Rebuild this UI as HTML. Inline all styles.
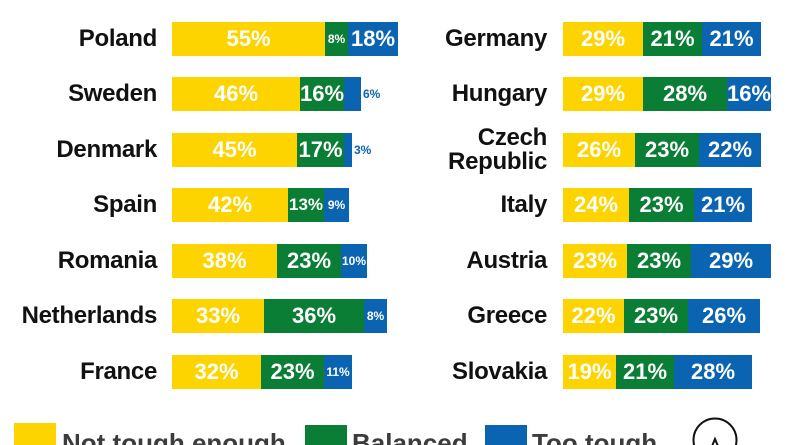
<!DOCTYPE html>
<html><head><meta charset="utf-8"><style>
html,body{margin:0;padding:0;background:#fff;width:800px;height:445px;overflow:hidden;}
body{position:relative;font-family:"Liberation Sans",Arial,sans-serif;font-weight:bold;}
.lbl{position:absolute;text-align:right;font-size:24px;color:#111;line-height:34px;height:34px;letter-spacing:-0.3px;}
.seg{position:absolute;height:34px;line-height:34px;text-align:center;color:#fff;font-size:22px;overflow:visible;white-space:nowrap;}
.y{background:#FDD400;}
.g{background:#0B7E35;}
.b{background:#0A64B2;}
.s{font-size:12px;}
.m{font-size:17px;}
.out{position:absolute;height:34px;line-height:34px;color:#0A64B2;font-size:12px;}
.leg{position:absolute;font-size:26px;color:#3c3c3c;top:428px;line-height:30px;}
.sq{position:absolute;width:42px;height:30px;}
</style></head><body>

<!-- LEFT -->
<div class="lbl" style="left:0;width:157px;top:22px">Poland</div>
<div class="seg y" style="left:172px;width:153px;top:22px">55%</div>
<div class="seg g s" style="left:325px;width:23px;top:22px">8%</div>
<div class="seg b" style="left:348px;width:50px;top:22px">18%</div>

<div class="lbl" style="left:0;width:157px;top:77px">Sweden</div>
<div class="seg y" style="left:172px;width:128px;top:77px">46%</div>
<div class="seg g" style="left:300px;width:44px;top:77px">16%</div>
<div class="seg b" style="left:344px;width:17px;top:77px"></div>
<div class="out" style="left:363px;top:77px">6%</div>

<div class="lbl" style="left:0;width:157px;top:133px">Denmark</div>
<div class="seg y" style="left:172px;width:125px;top:133px">45%</div>
<div class="seg g" style="left:297px;width:47px;top:133px">17%</div>
<div class="seg b" style="left:344px;width:8px;top:133px"></div>
<div class="out" style="left:354px;top:133px">3%</div>

<div class="lbl" style="left:0;width:157px;top:188px">Spain</div>
<div class="seg y" style="left:172px;width:116px;top:188px">42%</div>
<div class="seg g m" style="left:288px;width:36px;top:188px">13%</div>
<div class="seg b s" style="left:324px;width:25px;top:188px">9%</div>

<div class="lbl" style="left:0;width:157px;top:244px">Romania</div>
<div class="seg y" style="left:172px;width:105px;top:244px">38%</div>
<div class="seg g" style="left:277px;width:64px;top:244px">23%</div>
<div class="seg b s" style="left:341px;width:26px;top:244px">10%</div>

<div class="lbl" style="left:0;width:157px;top:299px">Netherlands</div>
<div class="seg y" style="left:172px;width:92px;top:299px">33%</div>
<div class="seg g" style="left:264px;width:100px;top:299px">36%</div>
<div class="seg b s" style="left:364px;width:23px;top:299px">8%</div>

<div class="lbl" style="left:0;width:157px;top:355px">France</div>
<div class="seg y" style="left:172px;width:89px;top:355px">32%</div>
<div class="seg g" style="left:261px;width:63px;top:355px">23%</div>
<div class="seg b s" style="left:324px;width:28px;top:355px">11%</div>

<!-- RIGHT -->
<div class="lbl" style="left:400px;width:147px;top:22px">Germany</div>
<div class="seg y" style="left:563px;width:80px;top:22px">29%</div>
<div class="seg g" style="left:643px;width:59px;top:22px">21%</div>
<div class="seg b" style="left:702px;width:59px;top:22px">21%</div>

<div class="lbl" style="left:400px;width:147px;top:77px">Hungary</div>
<div class="seg y" style="left:563px;width:80px;top:77px">29%</div>
<div class="seg g" style="left:643px;width:84px;top:77px">28%</div>
<div class="seg b" style="left:727px;width:44px;top:77px">16%</div>

<div class="lbl" style="left:400px;width:147px;top:126px;height:48px;line-height:24px">Czech<br>Republic</div>
<div class="seg y" style="left:563px;width:72px;top:133px">26%</div>
<div class="seg g" style="left:635px;width:64px;top:133px">23%</div>
<div class="seg b" style="left:699px;width:62px;top:133px">22%</div>

<div class="lbl" style="left:400px;width:147px;top:188px">Italy</div>
<div class="seg y" style="left:563px;width:66px;top:188px">24%</div>
<div class="seg g" style="left:629px;width:65px;top:188px">23%</div>
<div class="seg b" style="left:694px;width:58px;top:188px">21%</div>

<div class="lbl" style="left:400px;width:147px;top:244px">Austria</div>
<div class="seg y" style="left:563px;width:64px;top:244px">23%</div>
<div class="seg g" style="left:627px;width:64px;top:244px">23%</div>
<div class="seg b" style="left:691px;width:80px;top:244px">29%</div>

<div class="lbl" style="left:400px;width:147px;top:299px">Greece</div>
<div class="seg y" style="left:563px;width:61px;top:299px">22%</div>
<div class="seg g" style="left:624px;width:64px;top:299px">23%</div>
<div class="seg b" style="left:688px;width:72px;top:299px">26%</div>

<div class="lbl" style="left:400px;width:147px;top:355px">Slovakia</div>
<div class="seg y" style="left:563px;width:53px;top:355px">19%</div>
<div class="seg g" style="left:616px;width:58px;top:355px">21%</div>
<div class="seg b" style="left:674px;width:78px;top:355px">28%</div>

<!-- LEGEND -->
<div class="sq y" style="left:14px;top:423px"></div>
<div class="leg" style="left:62px">Not tough enough</div>
<div class="sq g" style="left:305px;top:425px"></div>
<div class="leg" style="left:352px">Balanced</div>
<div class="sq b" style="left:485px;top:425px"></div>
<div class="leg" style="left:532px">Too tough</div>

<svg style="position:absolute;left:690px;top:415px" width="50" height="30">
<circle cx="25" cy="25" r="21.5" fill="none" stroke="#111" stroke-width="2"/>
<polyline points="20,36 25,24 30,36" fill="none" stroke="#111" stroke-width="2"/>
</svg>
</body></html>
